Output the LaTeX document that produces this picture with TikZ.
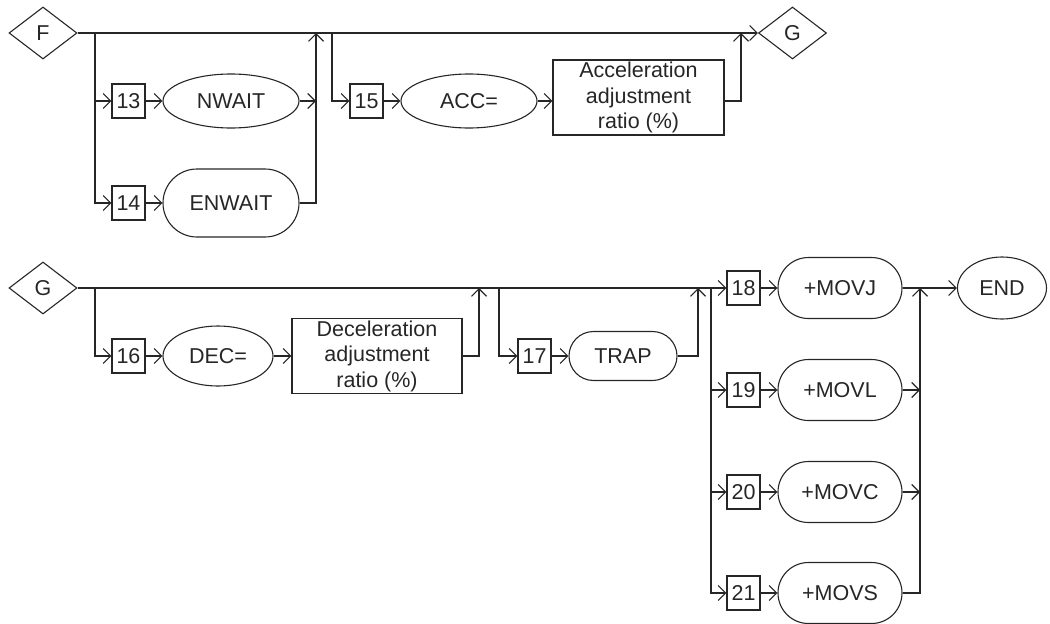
\documentclass[tikz,border=0pt]{standalone}
\usepackage{fontspec}
\setmainfont{Liberation Sans}
\usetikzlibrary{shapes.geometric,shapes.misc,arrows.meta}
\begin{document}
\begin{tikzpicture}[x=1pt,y=-1pt,
  line width=1.1pt, color=black!85,
  >={Straight Barb[length=7.5pt,width=15pt]},
  every node/.style={font=\fontsize{21.5}{25.5}\selectfont, inner sep=0pt, draw},
  numbox/.style={rectangle, minimum width=33pt, minimum height=34pt},
  ovalbox/.style={ellipse, minimum width=136pt, minimum height=54pt},
  pill/.style={rounded rectangle, minimum width=124pt, minimum height=61pt},
  rectbox/.style={rectangle, minimum width=171pt, minimum height=75pt, align=center},
  dia/.style={diamond, minimum width=68pt, minimum height=52pt}]
\useasboundingbox (0,0) rectangle (1050,624);

% ---------- Row 1 ----------
\node[dia] (F) at (43,33) {F};
\node[dia] (G1) at (792.5,33) {G};
\draw[->] (F.east) -- (G1.west);

\coordinate (a1) at (95,33);
\coordinate (j1) at (316,33);
\node[numbox] (n13) at (128.5,101) {13};
\node[numbox] (n14) at (128.5,203) {14};
\node[ovalbox] (nwait) at (231,101) {NWAIT};
\node[pill, minimum width=136pt, minimum height=68pt] (enwait) at (231,203) {ENWAIT};
\draw[->] (a1) |- (n14.west);
\draw[->] (a1 |- n13.west) -- (n13.west);
\draw[->] (n13.east) -- (nwait.west);
\draw[->] (n14.east) -- (enwait.west);
\draw[->] (nwait.east) -- (nwait.east -| j1);
\draw[->] (enwait.east) -| (j1);

\coordinate (b1) at (332,33);
\coordinate (j2) at (741,33);
\node[numbox] (n15) at (366.5,101) {15};
\node[ovalbox] (acc) at (469,101) {ACC=};
\node[rectbox] (accr) at (638.5,97.5) {Acceleration\\adjustment\\ratio (\%)};
\draw[->] (b1) |- (n15.west);
\draw[->] (n15.east) -- (acc.west);
\draw[->] (acc.east) -- (acc.east -| accr.west);
\draw[->] (accr.east |- acc.east) -| (j2);

% ---------- Row 2 ----------
\node[dia] (G2) at (43,288) {G};
\node[numbox] (n18) at (743.5,288) {18};
\draw[->] (G2.east) -- (n18.west);

\coordinate (c1) at (95,288);
\coordinate (j3) at (479,288);
\node[numbox] (n16) at (128.5,356) {16};
\node[ovalbox, minimum width=110pt, minimum height=60pt] (dec) at (218,356) {DEC=};
\node[rectbox, minimum width=170pt] (decr) at (377,356) {Deceleration\\adjustment\\ratio (\%)};
\draw[->] (c1) |- (n16.west);
\draw[->] (n16.east) -- (dec.west);
\draw[->] (dec.east) -- (decr.west);
\draw[->] (decr.east) -| (j3);

\coordinate (d1) at (499,288);
\coordinate (j4) at (698,288);
\node[numbox] (n17) at (534.5,356) {17};
\node[pill, minimum width=108pt, minimum height=49pt] (trap) at (623,356) {TRAP};
\draw[->] (d1) |- (n17.west);
\draw[->] (n17.east) -- (trap.west);
\draw[->] (trap.east) -| (j4);

\coordinate (e1) at (711,288);
\coordinate (j5) at (920,288);
\node[numbox] (n19) at (743.5,390) {19};
\node[numbox] (n20) at (743.5,492) {20};
\node[numbox] (n21) at (743.5,593) {21};
\node[pill] (movj) at (840,288) {+MOVJ};
\node[pill] (movl) at (840,390) {+MOVL};
\node[pill] (movc) at (840,492) {+MOVC};
\node[pill] (movs) at (840,593) {+MOVS};
\node[ellipse, minimum width=89pt, minimum height=62pt] (end) at (1002,288) {END};
\draw[->] (e1) |- (n21.west);
\draw[->] (e1 |- n19.west) -- (n19.west);
\draw[->] (e1 |- n20.west) -- (n20.west);
\draw[->] (n18.east) -- (movj.west);
\draw[->] (n19.east) -- (movl.west);
\draw[->] (n20.east) -- (movc.west);
\draw[->] (n21.east) -- (movs.west);
\draw[->] (movj.east) -- (end.west);
\draw[->] (movl.east) -- (movl.east -| j5);
\draw[->] (movc.east) -- (movc.east -| j5);
\draw[->] (movs.east) -| (j5);
\end{tikzpicture}
\end{document}
